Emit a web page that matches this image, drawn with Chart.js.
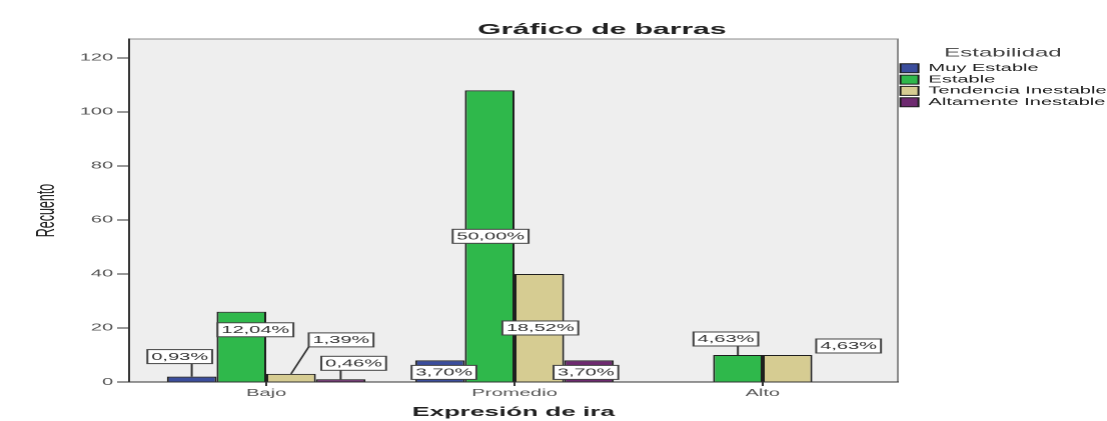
<!DOCTYPE html>
<html><head><meta charset="utf-8">
<script src="https://cdn.jsdelivr.net/npm/chart.js@4/dist/chart.umd.min.js"></script>
<style>
html,body{margin:0;padding:0;background:#fff;overflow:hidden;width:1107px;height:421px;}
#wrap{position:absolute;left:0;top:0;width:553.5px;height:421px;}
#wrap canvas{display:block;transform:scaleX(2);transform-origin:0 0;}
</style></head><body>
<div id="wrap"><canvas id="c"></canvas></div>
<script>
// ---- data ----
const categories = ['Bajo', 'Promedio', 'Alto'];
const seriesNames = ['Muy Estable', 'Estable', 'Tendencia Inestable', 'Altamente Inestable'];
const muyEstable = [2, 8, 0];
const estable = [26, 108, 10];
const tendenciaInestable = [3, 40, 10];
const altamenteInestable = [1, 8, 0];
const yTicks = [0, 20, 40, 60, 80, 100, 120];

// ---- styles / placement (kept apart from data) ----
const seriesValues = [muyEstable, estable, tendenciaInestable, altamenteInestable];
const seriesColors = ['#3b4d9c', '#2fb84b', '#d6cc92', '#6e2a70'];
// label offsets relative to bar top centre: [dx (full px), dy (px), leader line]
const labelPlacement = [
  [[-12, -20, true], [4, 12, false], null],
  [[14, 18, false], [1, 146, false], [-12, -16, true]],
  [[50, -34, true], [1, 54, false], [61, -9, false]],
  [[13, -16, true], [-3, 12, false], null]
];
const FONT = '"Liberation Sans", Arial, Helvetica, sans-serif';
Chart.defaults.font.family = FONT;

const total = seriesValues.flat().reduce((a, b) => a + b, 0);
const pct = v => (v / total * 100).toFixed(2).replace('.', ',') + '%';

const plotBox = {
  id: 'plotBox',
  beforeDraw(chart) {
    const {ctx, chartArea: a} = chart;
    ctx.save();
    ctx.fillStyle = '#eeeeee';
    ctx.fillRect(a.left, a.top, a.right - a.left, a.bottom - a.top);
    ctx.strokeStyle = '#8c8c8c';
    ctx.lineWidth = 1;
    ctx.strokeRect(a.left, a.top, a.right - a.left, a.bottom - a.top);
    ctx.restore();
  }
};

const valueLabels = {
  id: 'valueLabels',
  afterDatasetsDraw(chart) {
    const ctx = chart.ctx;
    ctx.save();
    ctx.font = '10px ' + FONT;
    ctx.textAlign = 'center';
    ctx.textBaseline = 'middle';
    chart.data.datasets.forEach((ds, di) => {
      const meta = chart.getDatasetMeta(di);
      meta.data.forEach((bar, ci) => {
        const v = seriesValues[di][ci];
        const p = labelPlacement[di][ci];
        if (!v || !p) return;
        const text = pct(v);
        const w = ctx.measureText(text).width + 4, h = 14;
        const cx = bar.x + p[0] / 2, cy = bar.y + p[1];
        const l = cx - w / 2, t = cy - h / 2;
        if (p[2]) {
          const sx = Math.min(Math.max(bar.x, l), l + w);
          const sy = bar.y > t + h ? t + h : t;
          ctx.beginPath();
          ctx.moveTo(sx, sy);
          ctx.lineTo(bar.x, bar.y);
          ctx.strokeStyle = '#333';
          ctx.lineWidth = 1;
          ctx.stroke();
        }
        ctx.fillStyle = '#ffffff';
        ctx.fillRect(l, t, w, h);
        ctx.strokeStyle = '#444';
        ctx.lineWidth = 1;
        ctx.strokeRect(l, t, w, h);
        ctx.fillStyle = '#333';
        ctx.fillText(text, cx, cy + 0.5);
      });
    });
    ctx.restore();
  }
};

const titleShift = {
  id: 'titleShift',
  afterLayout(chart) {
    const tb = chart.titleBlock;
    if (tb) { tb.left += 24; tb.right += 24; }
  }
};

new Chart(document.getElementById('c'), {
  type: 'bar',
  data: {
    datasets: seriesNames.map((name, i) => ({
      label: name,
      data: seriesValues[i].map((v, ci) => ({x: ci, y: v})),
      backgroundColor: seriesColors[i],
      borderColor: '#1e1e1e',
      borderWidth: 1
    }))
  },
  options: {
    responsive: true,
    maintainAspectRatio: false,
    devicePixelRatio: 2,
    animation: false,
    categoryPercentage: 0.8,
    barPercentage: 1,
    layout: {padding: 0},
    scales: {
      x: {
        type: 'linear', min: -0.5524, max: 2.5444, offset: false,
        grid: {display: true, offset: false, drawOnChartArea: false, tickLength: 4, color: '#333'},
        border: {display: true, color: '#333', width: 1},
        ticks: {stepSize: 1, includeBounds: false, autoSkip: false, maxRotation: 0, padding: 1,
          color: '#555', font: {size: 10}, callback: v => categories[v] ?? ''},
        title: {display: true, text: 'Expresión de ira', color: '#222',
          font: {size: 13, weight: 'bold'}, padding: {top: 0, bottom: 1}},
        afterFit(s) { s.height = 39; }
      },
      y: {
        min: 0, max: 127,
        afterBuildTicks(s) { s.ticks = yTicks.map(v => ({value: v})); },
        ticks: {stepSize: 20, includeBounds: false, padding: 2, color: '#555', font: {size: 10}},
        grid: {drawOnChartArea: false, tickLength: 6, color: '#333'},
        border: {color: '#333', width: 1},
        title: {display: true, text: 'Recuento', color: '#222', font: {size: 12.5},
          padding: {top: 16, bottom: 0}},
        afterFit(s) { s.width = 64.5; }
      }
    },
    plugins: {
      title: {display: true, text: 'Gráfico de barras', color: '#222',
        font: {size: 15, weight: 'bold'}, padding: {top: 21, bottom: 0}},
      legend: {
        position: 'right', align: 'start', maxWidth: 105, fullSize: false,
        title: {display: true, text: 'Estabilidad', color: '#444', position: 'center',
          font: {size: 12}, padding: {top: 8, bottom: 0.6}},
        labels: {boxWidth: 9, boxHeight: 9, padding: 1.3, color: '#222', font: {size: 10}}
      },
      tooltip: {enabled: false}
    }
  },
  plugins: [plotBox, valueLabels, titleShift]
});
</script>
</body></html>
